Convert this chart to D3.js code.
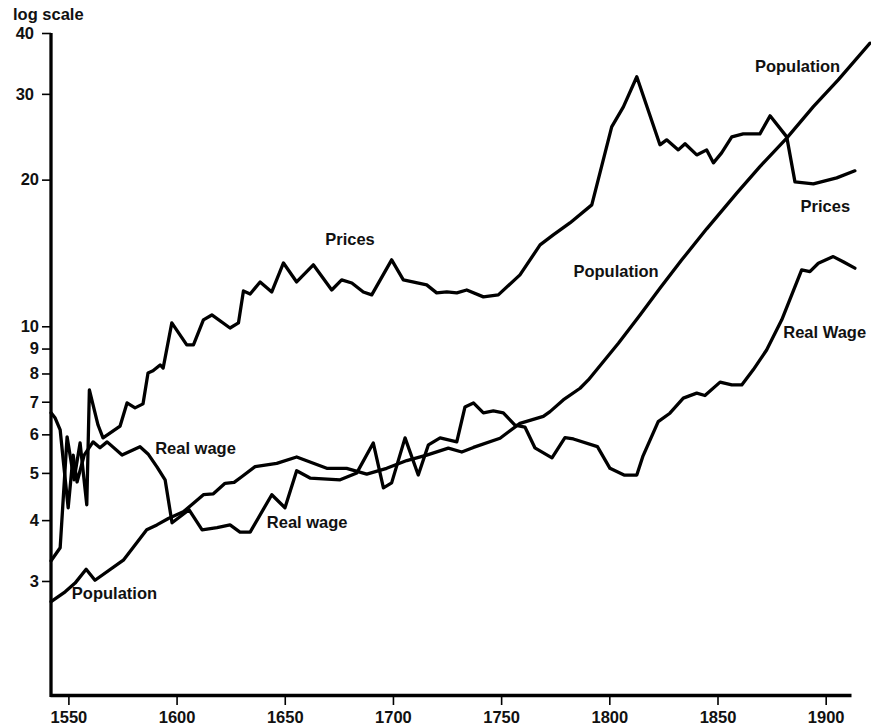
<!DOCTYPE html>
<html>
<head>
<meta charset="utf-8">
<script src="https://cdn.jsdelivr.net/npm/d3@7"></script>
<style>
  html, body { margin: 0; padding: 0; background: #fff; }
  svg { display: block; }
  text { font-family: "Liberation Sans", Arial, Helvetica, sans-serif; font-weight: bold; fill: #111; }
</style>
</head>
<body>
<svg id="chart" width="871" height="725"></svg>
<script>
// ---------- data ----------
const xTickYears = [1550, 1600, 1650, 1700, 1750, 1800, 1850, 1900];
const yTickValues = [3, 4, 5, 6, 7, 8, 9, 10, 20, 30, 40];

const priceYears = [1542,1546.2,1549.4,1552.6,1555.4,1558.5,1559.7,1563.7,1566,1573.9,
  1577.1,1580.8,1584.5,1586.8,1589.1,1592.4,1593.8,1597.8,1604.7,1607.8,
  1612.4,1616.3,1624.7,1628.6,1630.9,1634,1638.6,1644,1649.4,1655.5,
  1663.2,1671.7,1676.3,1681,1686.3,1690.2,1699.4,1704.8,1715.6,1720.2,
  1724.9,1729.5,1734.1,1741.8,1748.7,1758.7,1768,1774.1,1781.8,1791.9,
  1801.1,1806.5,1812.7,1823.4,1826.5,1831.9,1835,1840.4,1845,1848.1,
  1851.9,1856.6,1861.9,1869.6,1874.3,1882,1885.8,1894.3,1905.1,1913.5];
const priceValues = [3.30,3.51,5.93,4.84,5.76,4.30,7.40,6.27,5.90,6.24,
  6.96,6.80,6.93,8.02,8.10,8.33,8.21,10.16,9.16,9.16,
  10.31,10.55,9.92,10.16,11.82,11.65,12.33,11.76,13.49,12.33,
  13.37,11.87,12.45,12.27,11.76,11.60,13.69,12.45,12.16,11.71,
  11.76,11.71,11.87,11.49,11.60,12.75,14.69,15.40,16.30,17.75,
  25.67,28.21,32.52,23.58,24.14,23.02,23.69,22.48,23.02,21.65,
  22.70,24.48,24.83,24.83,27.04,24.48,19.79,19.60,20.17,20.85];

const wageYears = [1542,1543.9,1546.2,1547.6,1549.9,1552.2,1554,1557.3,1561.4,1564.6,
  1567.9,1574.8,1583.1,1586.8,1591,1594.7,1597.9,1605.8,1611.8,1618.7,
  1624.7,1629.3,1634,1644,1650.1,1655.5,1661.7,1675.6,1683.3,1690.9,
  1695.6,1699.4,1705.6,1711.7,1716.4,1721.8,1729.5,1733.3,1737.2,1741.8,
  1746.4,1751,1756.4,1761,1765.6,1773.5,1779.5,1783.4,1794.5,1800.3,
  1806.8,1812.7,1815.6,1822.6,1828,1834.2,1840.4,1844.2,1851.2,1856.6,
  1861.2,1866.5,1872.7,1879.7,1888.9,1892.7,1896.6,1903.5,1908.1,1913.5];
const wageValues = [6.64,6.48,6.13,5.32,4.24,5.44,4.79,5.44,5.79,5.63,
  5.79,5.44,5.66,5.47,5.14,4.84,3.95,4.20,3.82,3.86,
  3.91,3.78,3.78,4.51,4.24,5.05,4.88,4.84,5.00,5.76,
  4.66,4.77,5.90,4.95,5.71,5.90,5.79,6.83,6.96,6.64,
  6.70,6.64,6.27,6.21,5.63,5.37,5.91,5.87,5.66,5.11,
  4.95,4.95,5.42,6.37,6.63,7.12,7.29,7.21,7.68,7.58,
  7.58,8.14,8.94,10.31,13.05,12.95,13.47,13.90,13.57,13.16];

const popYears = [1542,1548.5,1553.1,1558.2,1562.3,1575.4,1586.2,1590.9,1596.2,1603.1,
  1607.8,1612.4,1617,1622.4,1626.6,1630.1,1636.3,1646.3,1655.5,1669.4,
  1678.6,1687.9,1697.1,1706.4,1715.6,1725.6,1731.8,1737.2,1749.5,1758.7,
  1769.5,1772.6,1778.7,1786.5,1790.3,1804.2,1814.2,1823.4,1833.5,1845,
  1858.9,1869.6,1882,1894.3,1905.8,1920.5];
const popValues = [2.72,2.85,2.97,3.17,3.01,3.31,3.82,3.91,4.03,4.16,
  4.33,4.51,4.53,4.76,4.78,4.91,5.15,5.23,5.39,5.11,
  5.11,4.97,5.11,5.30,5.44,5.62,5.52,5.64,5.89,6.32,
  6.53,6.68,7.06,7.46,7.76,9.23,10.55,11.97,13.69,15.85,
  18.76,21.27,24.33,28.25,32.05,38.13];

const labelTexts = ["Prices", "Prices", "Population", "Population", "Population", "Real Wage", "Real wage", "Real wage"];
const labelYears = [1668.7, 1888.4, 1867.3, 1783.4, 1551.6, 1880.4, 1590.1, 1641.7];
const labelValues = [14.69, 17.2, 33.3, 12.62, 2.75, 9.47, 5.47, 3.85];

// ---------- drawing ----------
const svg = d3.select("#chart");
svg.append("rect").attr("width", 871).attr("height", 725).attr("fill", "#fff");

const x = d3.scaleLinear().domain([1541.5, 1911.7]).range([50, 851]);
const y = d3.scaleLog().domain([1.75, 40]).range([695, 33]);

const zip = (ys, vs) => ys.map((yr, i) => ({ year: yr, value: vs[i] }));
const series = [zip(priceYears, priceValues), zip(wageYears, wageValues), zip(popYears, popValues)];

const line = d3.line().x(d => x(d.year)).y(d => y(d.value));

svg.append("g").selectAll("path").data(series).join("path")
  .attr("d", line)
  .attr("fill", "none")
  .attr("stroke", "#000")
  .attr("stroke-width", 3.3)
  .attr("stroke-linejoin", "round")
  .attr("stroke-linecap", "round");

// y axis
const yAxis = svg.append("g").attr("transform", "translate(51,0)")
  .call(d3.axisLeft(y).tickValues(yTickValues).tickFormat(d3.format("d")).tickSize(9).tickPadding(3).tickSizeOuter(0));
yAxis.select(".domain").attr("stroke", "#000").attr("stroke-width", 3.3).attr("d", "M0,697V33");
yAxis.selectAll(".tick line").attr("stroke", "#000").attr("stroke-width", 1.6);
yAxis.selectAll(".tick text").attr("font-size", 16.5).attr("fill", "#111")
  .attr("dx", d => d >= 30 ? -5 : 0)
  .style("font-family", "'Liberation Sans', Arial, sans-serif").style("font-weight", "bold");

// x axis
const xAxis = svg.append("g").attr("transform", "translate(0,695)")
  .call(d3.axisBottom(x).tickValues(xTickYears).tickFormat(d3.format("d")).tickSize(10).tickPadding(6).tickSizeOuter(0));
xAxis.select(".domain").attr("stroke", "#000").attr("stroke-width", 3.3);
xAxis.selectAll(".tick line").attr("stroke", "#000").attr("stroke-width", 1.6);
xAxis.selectAll(".tick text").attr("font-size", 16.5).attr("fill", "#111")
  .style("font-family", "'Liberation Sans', Arial, sans-serif").style("font-weight", "bold");

// axis title
svg.append("text").attr("x", 13).attr("y", 20).attr("font-size", 16.5).text("log scale");

// series labels
svg.append("g").selectAll("text").data(labelTexts).join("text")
  .attr("x", (d, i) => x(labelYears[i]))
  .attr("y", (d, i) => y(labelValues[i]))
  .attr("font-size", 16.5)
  .text(d => d);
</script>
</body>
</html>
